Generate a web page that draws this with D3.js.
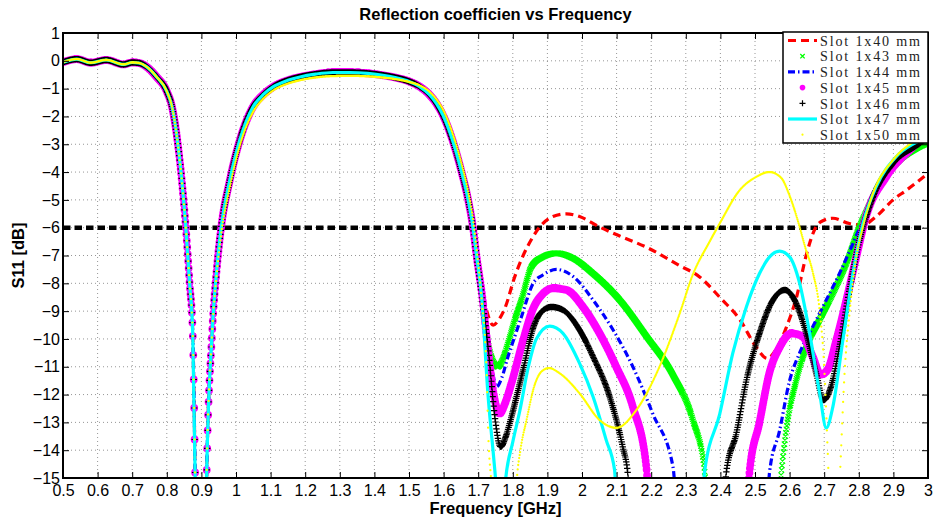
<!DOCTYPE html>
<html>
<head>
<meta charset="utf-8">
<script src="https://cdn.jsdelivr.net/npm/d3@7/dist/d3.min.js"></script>
<style>
  html, body { margin: 0; padding: 0; background: #fff; }
  svg { display: block; }
  .tick text { font-family: "Liberation Sans", Arial, sans-serif; font-size: 16px; fill: #000; }
</style>
</head>
<body>
<svg id="chart" width="935" height="522"></svg>
<script>
// ---------- axis ticks ----------
const xTicks = [0.5, 0.6, 0.7, 0.8, 0.9, 1.0, 1.1, 1.2, 1.3, 1.4, 1.5, 1.6, 1.7, 1.8, 1.9,
                2.0, 2.1, 2.2, 2.3, 2.4, 2.5, 2.6, 2.7, 2.8, 2.9, 3.0];
const xTickLabels = ["0.5", "0.6", "0.7", "0.8", "0.9", "1", "1.1", "1.2", "1.3", "1.4", "1.5",
                     "1.6", "1.7", "1.8", "1.9", "2", "2.1", "2.2", "2.3", "2.4", "2.5", "2.6",
                     "2.7", "2.8", "2.9", "3"];
const yTicks = [1, 0, -1, -2, -3, -4, -5, -6, -7, -8, -9, -10, -11, -12, -13, -14, -15];
const yTickLabels = ["1", "0", "\u22121", "\u22122", "\u22123", "\u22124", "\u22125", "\u22126",
                     "\u22127", "\u22128", "\u22129", "\u221210", "\u221211", "\u221212",
                     "\u221213", "\u221214", "\u221215"];

// ---------- S11 data (GHz, dB) ----------
// lower band, shared by the slots up to the second resonance
const lowFreq = [0.50, 0.54, 0.58, 0.625, 0.675, 0.70, 0.72, 0.74, 0.77, 0.80, 0.815, 0.83, 0.843,
                 0.855, 0.866, 0.875, 0.882, 0.89, 0.905, 0.915, 0.93, 0.945, 0.957, 0.982, 1.011,
                 1.049, 1.08, 1.107, 1.15, 1.185, 1.23, 1.28, 1.33, 1.38, 1.42, 1.46, 1.50, 1.53,
                 1.56, 1.58, 1.598, 1.627, 1.652, 1.671, 1.685, 1.695];
const lowS11 = [-0.05, 0.06, -0.07, 0.03, -0.13, -0.06, -0.08, -0.2, -0.57, -1.1, -1.65, -2.8, -4.25,
                -6.0, -8.0, -9.8, -15, -24, -24, -15, -10, -7.4, -6.0, -4.3, -2.85,
                -1.66, -1.2, -0.94, -0.7, -0.58, -0.48, -0.42, -0.42, -0.45, -0.51, -0.6, -0.74, -0.92,
                -1.23, -1.55, -1.95, -2.9, -4.0, -5.0, -6.0, -7.0];
const lowS11Slot50 = [-0.05, 0.06, -0.07, 0.03, -0.13, -0.06, -0.08, -0.2, -0.57, -1.1, -1.65, -2.8, -4.25,
                -6.0, -8.0, -9.8, -15, -24, -24, -15, -10, -7.6, -6.25, -4.55, -3.05,
                -1.85, -1.35, -1.07, -0.82, -0.7, -0.6, -0.55, -0.54, -0.56, -0.6, -0.66, -0.76, -0.88,
                -1.12, -1.4, -1.75, -2.65, -3.7, -4.7, -5.7, -6.7];

// upper band, one pair of arrays per slot length
const slot40Freq = [1.71, 1.725, 1.743, 1.76, 1.777, 1.806, 1.83, 1.855, 1.878, 1.916, 1.955, 1.993,
                    2.05, 2.109, 2.186, 2.28, 2.34, 2.398, 2.456, 2.504, 2.535, 2.56, 2.59, 2.62,
                    2.65, 2.675, 2.696, 2.725, 2.773, 2.812, 2.85, 2.899, 2.938, 3.0];
const slot40S11 = [-8.1, -9.0, -9.5, -9.3, -8.9, -7.75, -7.0, -6.4, -5.97, -5.6, -5.5, -5.6,
                   -5.97, -6.3, -6.7, -7.35, -7.77, -8.5, -9.3, -10.3, -10.7, -10.4, -9.6, -8.5,
                   -6.9, -6.0, -5.75, -5.66, -5.85, -5.9, -5.6, -5.0, -4.65, -4.05];

const slot43Freq = [1.71, 1.724, 1.74, 1.757, 1.772, 1.786, 1.806, 1.825, 1.854, 1.887, 1.926, 1.974,
                    2.032, 2.109, 2.186, 2.263, 2.32, 2.354, 2.37, 2.56, 2.576, 2.59, 2.619, 2.648,
                    2.687, 2.725, 2.764, 2.802, 2.83, 2.86, 2.918, 2.96, 3.0];
const slot43S11 = [-8.3, -9.8, -10.7, -11.0, -10.7, -10.16, -9.3, -8.6, -7.4, -7.05, -6.92, -7.1,
                   -7.65, -8.6, -9.9, -11.3, -12.9, -14.7, -17, -17, -14.8, -13.3, -11.5, -10.3,
                   -9.3, -8.36, -7.28, -5.97, -5.2, -4.5, -3.57, -3.2, -2.95];

const slot44Freq = [1.71, 1.725, 1.74, 1.753, 1.768, 1.786, 1.806, 1.825, 1.859, 1.887, 1.926, 1.974,
                    2.032, 2.09, 2.147, 2.205, 2.263, 2.28, 2.53, 2.542, 2.571, 2.6, 2.629, 2.667,
                    2.706, 2.744, 2.783, 2.821, 2.879, 2.956, 3.0];
const slot44S11 = [-8.3, -9.9, -11.1, -11.72, -11.4, -10.64, -9.9, -9.2, -8.0, -7.7, -7.5, -7.75,
                   -8.6, -9.68, -11.0, -12.7, -14.6, -17, -17, -14.8, -13.3, -11.5, -10.5, -9.56,
                   -8.6, -7.65, -6.57, -5.5, -4.17, -3.09, -2.8];

const slot45Freq = [1.71, 1.728, 1.745, 1.762, 1.778, 1.796, 1.83, 1.859, 1.885, 1.916, 1.955, 2.003,
                    2.051, 2.099, 2.147, 2.186, 2.2, 2.47, 2.484, 2.513, 2.542, 2.571, 2.605, 2.638,
                    2.667, 2.69, 2.71, 2.735, 2.764, 2.793, 2.821, 2.879, 2.956, 3.0];
const slot45S11 = [-8.3, -10.3, -12.0, -12.68, -12.3, -11.6, -10.04, -8.9, -8.4, -8.18, -8.24, -8.85,
                   -9.8, -11.0, -12.44, -14.6, -17, -17, -14.8, -13.0, -11.2, -10.3, -9.8, -9.92,
                   -10.64, -11.28, -11.1, -10.04, -8.6, -7.04, -5.6, -4.17, -3.1, -2.6];

const slot46Freq = [1.71, 1.73, 1.748, 1.765, 1.78, 1.796, 1.83, 1.859, 1.885, 1.912, 1.945, 1.993,
                    2.032, 2.08, 2.118, 2.132, 2.145, 2.405, 2.417, 2.446, 2.475, 2.513, 2.552, 2.586,
                    2.619, 2.648, 2.677, 2.698, 2.72, 2.744, 2.773, 2.802, 2.841, 2.899, 2.976, 3.0];
const slot46S11 = [-8.4, -10.5, -12.8, -13.88, -13.5, -12.8, -11.1, -9.6, -9.0, -8.85, -8.96, -9.68,
                   -10.64, -12.08, -13.9, -14.8, -17, -17, -14.8, -13.4, -11.5, -9.8, -8.6, -8.24,
                   -8.72, -9.8, -11.24, -12.2, -11.7, -10.3, -8.24, -6.45, -4.89, -3.69, -2.97, -2.75];

const slot47Freq = [1.71, 1.728, 1.745, 1.752, 1.765, 1.778, 1.8, 1.82, 1.845, 1.868, 1.907, 1.945,
                    1.993, 2.032, 2.07, 2.094, 2.105, 2.345, 2.354, 2.398, 2.436, 2.475, 2.513, 2.542,
                    2.571, 2.6, 2.629, 2.658, 2.687, 2.706, 2.725, 2.754, 2.783, 2.812, 2.85, 2.908,
                    2.976, 3.0];
const slot47S11 = [-8.5, -11.96, -14.3, -15.3, -18, -15.2, -13.7, -12.6, -11.0, -10.0, -9.54, -9.8,
                   -10.88, -12.08, -13.64, -14.7, -17, -17, -14.8, -12.7, -10.5, -8.85, -7.65, -7.05,
                   -6.84, -7.05, -8.0, -9.8, -11.96, -13.2, -12.44, -10.04, -7.65, -5.85, -4.53, -3.45,
                   -2.85, -2.65];

const slot50Freq = [1.71, 1.724, 1.729, 1.738, 1.75, 1.80, 1.812, 1.822, 1.84, 1.862, 1.885, 1.905,
                    1.936, 1.993, 2.051, 2.099, 2.157, 2.224, 2.282, 2.32, 2.369, 2.398, 2.456, 2.504,
                    2.542, 2.575, 2.6, 2.625, 2.645, 2.667, 2.687, 2.70, 2.71, 2.718, 2.74, 2.747,
                    2.759, 2.773, 2.793, 2.812, 2.84, 2.9, 2.96, 3.0];
const slot50S11 = [-8.6, -11.1, -13.4, -15.2, -18, -18, -15.0, -14.0, -12.9, -11.7, -11.15, -11.05,
                   -11.24, -11.96, -12.92, -13.2, -12.56, -11.0, -9.1, -7.7, -6.5, -5.85, -4.65, -4.17,
                   -4.0, -4.2, -4.85, -5.8, -6.7, -7.6, -9.0, -11.0, -14.0, -16.5, -16.5, -14.5,
                   -11.2, -9.1, -7.04, -5.97, -4.8, -3.55, -2.9, -2.65];

// -6 dB reference level
const thresholdFreq = [0.5, 2.98];
const thresholdS11 = [-6, -6];

const seriesNames = ["Slot 1x40 mm", "Slot 1x43 mm", "Slot 1x44 mm", "Slot 1x45 mm",
                     "Slot 1x46 mm", "Slot 1x47 mm", "Slot 1x50 mm"];

// ---------- assemble series ----------
function join(fLow, sLow, fHigh, sHigh) {
  const s = sLow.concat(sHigh);
  return fLow.concat(fHigh).map((f, i) => ({ f, s: s[i] }));
}
const series = [
  { name: seriesNames[0], pts: join(lowFreq, lowS11, slot40Freq, slot40S11),
    kind: "line", color: "#ff0000", width: 3.2, dash: "8,5" },
  { name: seriesNames[1], pts: join(lowFreq, lowS11, slot43Freq, slot43S11),
    kind: "x", color: "#00ff00" },
  { name: seriesNames[2], pts: join(lowFreq, lowS11, slot44Freq, slot44S11),
    kind: "line", color: "#0000ff", width: 3.2, dash: "7,3,1.5,3" },
  { name: seriesNames[3], pts: join(lowFreq, lowS11, slot45Freq, slot45S11),
    kind: "dot", color: "#ff00ff", r: 3.9 },
  { name: seriesNames[4], pts: join(lowFreq, lowS11, slot46Freq, slot46S11),
    kind: "plus", color: "#000000" },
  { name: seriesNames[5], pts: join(lowFreq, lowS11, slot47Freq, slot47S11),
    kind: "line", color: "#00ffff", width: 3.2, dash: null },
  { name: seriesNames[6], pts: join(lowFreq, lowS11Slot50, slot50Freq, slot50S11),
    kind: "dot", color: "#ffff00", r: 1.15 }
];

// ---------- layout ----------
const svg = d3.select("#chart");
const pL = 63, pR = 928, pT = 33, pB = 478;
const x = d3.scaleLinear().domain([0.5, 3]).range([pL, pR]);
const y = d3.scaleLinear().domain([-15, 1]).range([pB, pT]);

svg.append("rect").attr("width", 935).attr("height", 522).attr("fill", "#fff");

svg.append("defs").append("clipPath").attr("id", "plotClip")
  .append("rect").attr("x", pL).attr("y", pT)
  .attr("width", pR - pL).attr("height", pB - pT);

// grid
const grid = svg.append("g").attr("stroke", "#8a8a8a").attr("stroke-width", 0.9)
  .attr("stroke-dasharray", "1,3");
grid.selectAll("line.v").data(xTicks.slice(1, -1)).join("line")
  .attr("x1", d => x(d)).attr("x2", d => x(d)).attr("y1", pT).attr("y2", pB);
grid.selectAll("line.h").data(yTicks.slice(1, -1)).join("line")
  .attr("y1", d => y(d)).attr("y2", d => y(d)).attr("x1", pL).attr("x2", pR);

const plot = svg.append("g").attr("clip-path", "url(#plotClip)");

const line = d3.line().x(d => x(d.f)).y(d => y(d.s)).curve(d3.curveMonotoneX);

// -6 dB threshold
plot.append("path")
  .datum(thresholdFreq.map((f, i) => ({ f, s: thresholdS11[i] })))
  .attr("d", line).attr("fill", "none").attr("stroke", "#000")
  .attr("stroke-width", 4.5).attr("stroke-dasharray", "7.5,4");

// marker shapes as path fragments
function markerPath(kind, px, py, o) {
  if (kind === "x") {
    const h = o.h;
    return `M${px - h},${py - h}L${px + h},${py + h}M${px - h},${py + h}L${px + h},${py - h}`;
  }
  if (kind === "plus") {
    const h = o.h;
    return `M${px - h},${py}L${px + h},${py}M${px},${py - h}L${px},${py + h}`;
  }
  const r = o.r;
  return `M${px - r},${py}a${r},${r} 0 1,0 ${2 * r},0a${r},${r} 0 1,0 ${-2 * r},0`;
}

// place markers along the sweep curve, one per small frequency step
function sampleCurve(node, minDx) {
  const L = node.getTotalLength();
  const out = [];
  let lastX = -Infinity;
  for (let s = 0; s <= L; s += 0.5) {
    const p = node.getPointAtLength(s);
    if (p.x - lastX >= minDx) {
      lastX = p.x;
      if (p.y <= pB + 6 && p.y >= pT - 6) out.push(p);
    }
  }
  return out;
}

series.forEach(sr => {
  const path = plot.append("path").datum(sr.pts).attr("d", line).attr("fill", "none");
  if (sr.kind === "line") {
    path.attr("stroke", sr.color).attr("stroke-width", sr.width)
      .attr("stroke-dasharray", sr.dash);
  } else {
    const pts = sampleCurve(path.node(), 0.45);
    path.remove();
    let d = "";
    if (sr.kind === "x") pts.forEach(p => d += markerPath("x", p.x, p.y, { h: 2.6 }));
    else if (sr.kind === "plus") pts.forEach(p => d += markerPath("plus", p.x, p.y, { h: 3.2 }));
    else pts.forEach(p => d += markerPath("dot", p.x, p.y, { r: sr.r }));
    const m = plot.append("path").attr("d", d);
    if (sr.kind === "dot") m.attr("fill", sr.color).attr("stroke", "none");
    else m.attr("fill", "none").attr("stroke", sr.color).attr("stroke-width", 1.2);
  }
});

// axes with inward ticks on all four sides
const fmtX = (d, i) => xTickLabels[i];
const fmtY = (d, i) => yTickLabels[i];
svg.append("g").attr("transform", `translate(0,${pB})`)
  .call(d3.axisBottom(x).tickValues(xTicks).tickFormat(fmtX).tickSize(-6).tickPadding(7));
svg.append("g").attr("transform", `translate(0,${pT})`)
  .call(d3.axisTop(x).tickValues(xTicks).tickFormat("").tickSize(-6));
svg.append("g").attr("transform", `translate(${pL},0)`)
  .call(d3.axisLeft(y).tickValues(yTicks).tickFormat(fmtY).tickSize(-6).tickPadding(3));
svg.append("g").attr("transform", `translate(${pR},0)`)
  .call(d3.axisRight(y).tickValues(yTicks).tickFormat("").tickSize(-6));
svg.selectAll(".domain").remove();
svg.selectAll(".tick line").attr("stroke", "#000").attr("stroke-width", 1);

// frame
svg.append("rect").attr("x", pL).attr("y", pT)
  .attr("width", pR - pL).attr("height", pB - pT)
  .attr("fill", "none").attr("stroke", "#000").attr("stroke-width", 2);

// titles
const sans = "'Liberation Sans', Arial, Helvetica, sans-serif";
svg.append("text").attr("x", (pL + pR) / 2).attr("y", 20)
  .attr("text-anchor", "middle").attr("font-family", sans).attr("font-weight", "bold")
  .attr("font-size", 16.5).text("Reflection coefficien vs Frequency");
svg.append("text").attr("x", (pL + pR) / 2).attr("y", 514)
  .attr("text-anchor", "middle").attr("font-family", sans).attr("font-weight", "bold")
  .attr("font-size", 16.5).text("Frequency [GHz]");
svg.append("text").attr("transform", `translate(24,${(pT + pB) / 2}) rotate(-90)`)
  .attr("text-anchor", "middle").attr("font-family", sans).attr("font-weight", "bold")
  .attr("font-size", 16.5).text("S11 [dB]");

// legend
const lg = svg.append("g");
const lgX = 783, lgY = 32, lgW = 145, lgH = 111, rowH = 15.7, row0 = 40.5;
lg.append("rect").attr("x", lgX).attr("y", lgY).attr("width", lgW).attr("height", lgH)
  .attr("fill", "#fff").attr("stroke", "#000").attr("stroke-width", 1.5);
series.forEach((sr, i) => {
  const cy = row0 + i * rowH;
  const x0 = 788, x1 = 817, cx = (x0 + x1) / 2;
  if (sr.kind === "line") {
    lg.append("line").attr("x1", x0).attr("x2", x1).attr("y1", cy).attr("y2", cy)
      .attr("stroke", sr.color).attr("stroke-width", sr.width)
      .attr("stroke-dasharray", sr.dash);
  } else if (sr.kind === "x") {
    lg.append("path").attr("d", markerPath("x", cx, cy, { h: 2.2 }))
      .attr("stroke", sr.color).attr("stroke-width", 1.3).attr("fill", "none");
  } else if (sr.kind === "plus") {
    lg.append("path").attr("d", markerPath("plus", cx, cy, { h: 3 }))
      .attr("stroke", sr.color).attr("stroke-width", 1.2).attr("fill", "none");
  } else {
    lg.append("path").attr("d", markerPath("dot", cx, cy, { r: sr.r > 2 ? 2.8 : 1.1 }))
      .attr("fill", sr.color);
  }
  lg.append("text").attr("x", 820).attr("y", cy + 5.2)
    .attr("font-family", "'Liberation Serif', 'Times New Roman', serif")
    .attr("font-size", 14.1).attr("textLength", 100).attr("lengthAdjust", "spacing")
    .attr("fill", "#222").text(sr.name);
});
</script>
</body>
</html>
